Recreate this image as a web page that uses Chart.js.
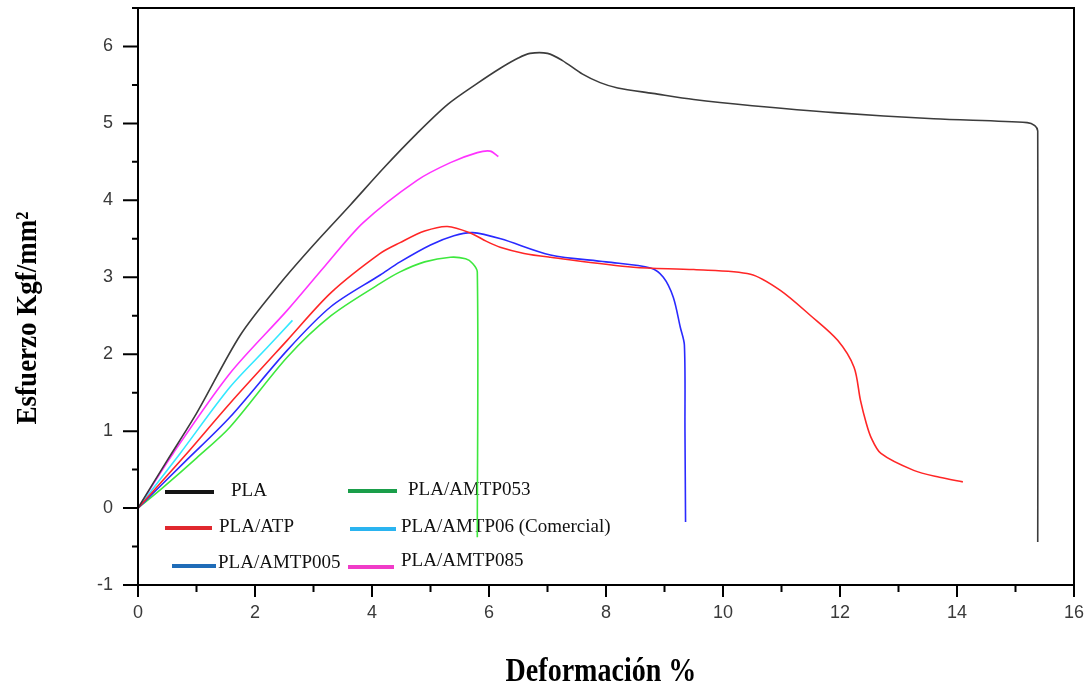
<!DOCTYPE html>
<html>
<head>
<meta charset="utf-8">
<script src="https://cdn.jsdelivr.net/npm/chart.js@4.4.1/dist/chart.umd.min.js"></script>
<style>
html, body { margin: 0; padding: 0; background: #fff; }
</style>
</head>
<body>
<canvas id="chart" width="1090" height="688"></canvas>
<script>
// series names
var seriesNames = ["PLA", "PLA/ATP", "PLA/AMTP005", "PLA/AMTP053", "PLA/AMTP06 (Comercial)", "PLA/AMTP085"];

// Deformación % (x) / Esfuerzo Kgf/mm2 (y)
var plaX = [0, 0.5, 1.0, 1.75, 2.43, 3.0, 3.63, 4.2, 4.77, 5.3, 5.8, 6.2, 6.5, 6.7, 7.0, 7.25, 7.6, 7.9, 8.2, 8.8, 9.5, 10.5, 11.9, 13.6, 15.2, 15.33, 15.38, 15.38];
var plaY = [0, 0.62, 1.23, 2.25, 2.92, 3.42, 3.94, 4.42, 4.87, 5.25, 5.52, 5.72, 5.85, 5.91, 5.91, 5.82, 5.64, 5.53, 5.46, 5.39, 5.31, 5.23, 5.14, 5.06, 5.01, 4.97, 4.9, -0.44];

var atpX = [0, 0.8, 1.57, 2.55, 3.3, 4.14, 4.48, 4.9, 5.29, 5.7, 5.95, 6.19, 6.6, 7.05, 8.47, 9.5, 10.47, 10.98, 11.5, 11.96, 12.24, 12.35, 12.45, 12.53, 12.7, 13.26, 13.7, 14.1];
var atpY = [0, 0.68, 1.36, 2.18, 2.8, 3.31, 3.45, 3.6, 3.66, 3.57, 3.47, 3.39, 3.31, 3.26, 3.13, 3.1, 3.04, 2.83, 2.5, 2.18, 1.83, 1.4, 1.1, 0.92, 0.71, 0.49, 0.4, 0.34];

var amtp005X = [0, 0.8, 1.57, 2.55, 3.3, 4.14, 4.48, 5.0, 5.4, 5.72, 6.2, 7.05, 8.0, 8.76, 8.98, 9.15, 9.27, 9.34, 9.35, 9.36];
var amtp005Y = [0, 0.6, 1.18, 2.05, 2.62, 3.03, 3.2, 3.42, 3.54, 3.58, 3.5, 3.29, 3.2, 3.12, 3.0, 2.74, 2.35, 2.12, 1.0, -0.18];

var amtp053X = [0, 0.43, 1.0, 1.57, 2.55, 3.3, 4.14, 4.48, 4.9, 5.34, 5.6, 5.72, 5.8, 5.8];
var amtp053Y = [0, 0.27, 0.65, 1.05, 1.96, 2.5, 2.92, 3.07, 3.2, 3.26, 3.24, 3.18, 3.07, -0.38];

var amtp06X = [0, 0.72, 1.57, 2.2, 2.64];
var amtp06Y = [0, 0.71, 1.57, 2.08, 2.44];

var amtp085X = [0, 0.6, 1.57, 2.55, 3.2, 3.85, 4.77, 5.34, 5.8, 6.02, 6.16];
var amtp085Y = [0, 0.71, 1.75, 2.57, 3.15, 3.71, 4.26, 4.49, 4.62, 4.64, 4.57];

var xList = [plaX, atpX, amtp005X, amtp053X, amtp06X, amtp085X];
var yList = [plaY, atpY, amtp005Y, amtp053Y, amtp06Y, amtp085Y];

// colores
var lineColors = ["#3c3c3c", "#ff2626", "#2a2aff", "#3de83d", "#33e8ff", "#ff33ff"];
var legendColors = ["#151515", "#e0282e", "#1f6cb8", "#1a9e4a", "#2ab4f0", "#f03cc8"];

var datasets = [];
for (let i = 0; i < seriesNames.length; i++) {
    let pts = [];
    for (let j = 0; j < xList[i].length; j++) {
        pts.push({ x: xList[i][j], y: yList[i][j] });
    }
    datasets.push({
        label: seriesNames[i],
        data: pts,
        borderColor: lineColors[i],
        borderWidth: 1.6,
        pointRadius: 0,
        fill: false,
        tension: 0.3
    });
}

// legend slots: [line x1, line x2, line y, text x, text y]
var legendSlots = [
    [165, 214, 492, 231, 491],
    [165, 212, 528, 219, 527],
    [172, 216, 566, 218, 563],
    [348, 397, 491, 408, 490],
    [350, 396, 529, 401, 527],
    [348, 394, 567, 401, 561]
];

var decor = {
    id: "decor",
    beforeDatasetsDraw: function (chart) {
        var ctx = chart.ctx;
        ctx.save();
        ctx.font = "19px 'Liberation Serif'";
        ctx.textBaseline = "middle";
        ctx.fillStyle = "#111";
        for (let i = 0; i < legendSlots.length; i++) {
            let s = legendSlots[i];
            ctx.strokeStyle = legendColors[i];
            ctx.lineWidth = 4;
            ctx.beginPath();
            ctx.moveTo(s[0], s[2]);
            ctx.lineTo(s[1], s[2]);
            ctx.stroke();
            ctx.fillText(chart.data.datasets[i].label, s[3], s[4]);
        }
        ctx.restore();
    },
    afterDraw: function (chart) {
        var ctx = chart.ctx;
        var a = chart.chartArea;
        var xs = chart.scales.x, ys = chart.scales.y;
        ctx.save();
        ctx.strokeStyle = "#000";
        ctx.lineWidth = 2;
        ctx.strokeRect(a.left, a.top, a.right - a.left, a.bottom - a.top);
        // tick marks
        ctx.beginPath();
        for (let v = 0; v <= 16; v++) {
            let px = xs.getPixelForValue(v);
            let len = v % 2 === 0 ? 12 : 7;
            ctx.moveTo(px, a.bottom);
            ctx.lineTo(px, a.bottom + len);
        }
        for (let v = -1; v <= 6.5; v += 0.5) {
            let py = ys.getPixelForValue(v);
            let len = Number.isInteger(v) ? 15 : 6;
            ctx.moveTo(a.left, py);
            ctx.lineTo(a.left - len, py);
        }
        ctx.stroke();
        // titulos
        ctx.fillStyle = "#000";
        ctx.textAlign = "center";
        ctx.textBaseline = "middle";
        ctx.font = "bold 30px 'Liberation Serif'";
        ctx.save();
        ctx.translate(28, 318);
        ctx.rotate(-Math.PI / 2);
        ctx.scale(0.9, 1);
        ctx.fillText("Esfuerzo Kgf/mm\u00b2", 0, 0);
        ctx.restore();
        ctx.save();
        ctx.font = "bold 33px 'Liberation Serif'";
        ctx.translate(601, 672);
        ctx.scale(0.85, 1);
        ctx.fillText("Deformaci\u00f3n %", 0, 0);
        ctx.restore();
        ctx.restore();
    }
};

var ctx = document.getElementById("chart");
var stressChart = new Chart(ctx, {
    type: "line",
    data: { datasets: datasets },
    options: {
        responsive: false,
        animation: false,
        layout: { padding: { left: 0, top: 8, right: 16, bottom: 0 } },
        plugins: { legend: { display: false }, tooltip: { enabled: false } },
        scales: {
            x: {
                type: "linear",
                min: 0,
                max: 16,
                grid: { display: false, drawTicks: false },
                border: { display: false },
                ticks: {
                    stepSize: 2,
                    padding: 17,
                    color: "#3a3a3a",
                    font: { family: "'Liberation Sans', Arial", size: 18 }
                },
                afterFit: function (scale) {
                    scale.height = 103;
                    scale.paddingLeft = 0;
                    scale.paddingRight = 0;
                }
            },
            y: {
                type: "linear",
                min: -1,
                max: 6.5,
                grid: { display: false, drawTicks: false },
                border: { display: false },
                ticks: {
                    stepSize: 1,
                    padding: 25,
                    color: "#3a3a3a",
                    font: { family: "'Liberation Sans', Arial", size: 18 },
                    callback: function (v) { return Number.isInteger(v) ? v : ""; }
                },
                afterFit: function (scale) {
                    scale.width = 138;
                    scale.paddingTop = 0;
                    scale.paddingBottom = 0;
                }
            }
        }
    },
    plugins: [decor]
});
</script>
</body>
</html>
